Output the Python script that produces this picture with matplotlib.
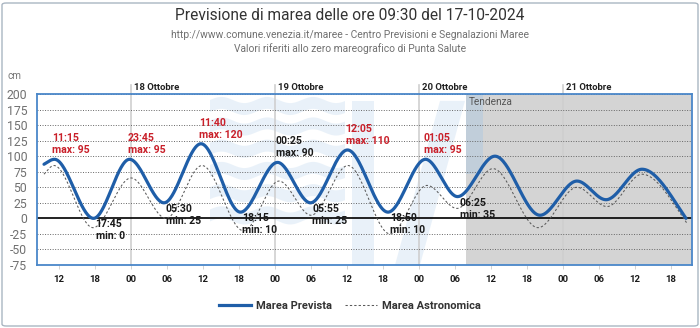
import numpy as np
import pandas as pd
import matplotlib
matplotlib.use("Agg")
import matplotlib.pyplot as plt
from matplotlib.patches import FancyBboxPatch, Polygon, Rectangle
from matplotlib.lines import Line2D
import matplotlib.transforms as mtransforms

plt.rcParams["font.family"] = ["Roboto", "DejaVu Sans"]

# ---- data -------------------------------------------------------------
ref_day = pd.Timestamp("2024-10-18 00:00")

# predicted tide: turning points (first/last are the ends of the series)
prevista_time = ["2024-10-17 09:30", "2024-10-17 11:15", "2024-10-17 17:45",
                 "2024-10-17 23:45", "2024-10-18 05:30", "2024-10-18 11:40",
                 "2024-10-18 18:15", "2024-10-19 00:25", "2024-10-19 05:55",
                 "2024-10-19 12:05", "2024-10-19 18:50", "2024-10-20 01:05",
                 "2024-10-20 06:25", "2024-10-20 12:40", "2024-10-20 20:10",
                 "2024-10-21 02:20", "2024-10-21 07:10", "2024-10-21 13:10",
                 "2024-10-21 20:30"]
prevista_cm = [87, 95, 0, 95, 25, 120, 10, 90, 25, 110, 10, 95, 35,
               100, 5, 60, 30, 79, 0]

# astronomical tide: turning points
astro_time = ["2024-10-17 09:30", "2024-10-17 11:10", "2024-10-17 17:40",
              "2024-10-18 00:00", "2024-10-18 05:50", "2024-10-18 11:50",
              "2024-10-18 18:45", "2024-10-19 00:40", "2024-10-19 06:00",
              "2024-10-19 12:10", "2024-10-19 19:10", "2024-10-20 01:20",
              "2024-10-20 06:20", "2024-10-20 12:20", "2024-10-20 19:50",
              "2024-10-21 02:20", "2024-10-21 07:20", "2024-10-21 13:10",
              "2024-10-21 20:40"]
astro_cm = [71, 85, -15, 65, 0, 85, -20, 60, 5, 85, -25, 53, 16,
            80, -15, 50, 19, 71, -8]

tendenza_start = "2024-10-20 07:50"
day_labels = ["18 Ottobre", "19 Ottobre", "20 Ottobre", "21 Ottobre"]
day_starts = ["2024-10-18 00:00", "2024-10-19 00:00", "2024-10-20 00:00", "2024-10-21 00:00"]
hour_ticks = ["2024-10-17 12:00", "2024-10-17 18:00",
              "2024-10-18 00:00", "2024-10-18 06:00", "2024-10-18 12:00", "2024-10-18 18:00",
              "2024-10-19 00:00", "2024-10-19 06:00", "2024-10-19 12:00", "2024-10-19 18:00",
              "2024-10-20 00:00", "2024-10-20 06:00", "2024-10-20 12:00", "2024-10-20 18:00",
              "2024-10-21 00:00", "2024-10-21 06:00", "2024-10-21 12:00", "2024-10-21 18:00"]
y_ticks = list(range(-75, 201, 25))


def to_stamps(ts):
    return pd.to_datetime(pd.Series(ts), format="%Y-%m-%d %H:%M")


def hours(ts):
    return (to_stamps(ts) - ref_day).dt.total_seconds().to_numpy() / 3600.0


def smooth_through(t, v, n=60, end_factor=1.3):
    """Cubic Hermite curve with flat tangents at the turning points."""
    t = np.asarray(t, float)
    v = np.asarray(v, float)
    m = np.zeros_like(v)
    m[0] = end_factor * (v[1] - v[0]) / (t[1] - t[0])
    m[-1] = end_factor * (v[-1] - v[-2]) / (t[-1] - t[-2])
    xs, ys = [], []
    for i in range(len(t) - 1):
        h = t[i + 1] - t[i]
        s = np.linspace(0, 1, n, endpoint=(i == len(t) - 2))
        h00 = 2 * s**3 - 3 * s**2 + 1
        h10 = s**3 - 2 * s**2 + s
        h01 = -2 * s**3 + 3 * s**2
        h11 = s**3 - s**2
        xs.append(t[i] + s * h)
        ys.append(h00 * v[i] + h10 * h * m[i] + h01 * v[i + 1] + h11 * h * m[i + 1])
    return np.concatenate(xs), np.concatenate(ys)


tp = hours(prevista_time)
ta = hours(astro_time)
t_tend = hours([tendenza_start])[0]

# ---- figure -----------------------------------------------------------
fig = plt.figure(figsize=(7.0, 3.28), dpi=100)
fig.patch.set_facecolor("white")
W, H = 700.0, 328.0
ax_l, ax_r, ax_t, ax_b = 37, 692, 94, 265
ax = fig.add_axes([ax_l / W, 1 - ax_b / H, (ax_r - ax_l) / W, (ax_b - ax_t) / H])

# frame around the whole chart
fig.patches.append(FancyBboxPatch((2 / W, 2 / H), 1 - 4 / W, 1 - 5 / H,
                                  boxstyle="round,pad=0,rounding_size=0.006",
                                  transform=fig.transFigure, fill=False,
                                  edgecolor="#aab6c2", linewidth=1.0))

x_min, x_max = (ax_l - 131) / 6.0, (ax_r - 131) / 6.0
ax.set_xlim(x_min, x_max)
ax.set_ylim(-75, 200)

# forecast horizon shading
ax.axvspan(t_tend, x_max, color="#d4d4d4", lw=0, zorder=0)
ax.text(t_tend + 0.5, 195, "Tendenza", fontsize=7.2, color="#555555",
        ha="left", va="top", zorder=3)

# faint logo watermark
wm = dict(facecolor="#9ec3e6", alpha=0.22, lw=0, zorder=1, transform=ax.transAxes)
wx = np.linspace((210 - ax_l) / 655, (345 - ax_l) / 655, 200)
for yc in [0.93, 0.81, 0.68, 0.55, 0.42, 0.29]:
    wave = 0.018 * np.sin((wx - wx[0]) * 2 * np.pi / 0.07)
    top = yc + wave + 0.035
    bot = yc + wave - 0.035
    ax.add_patch(Polygon(np.column_stack([np.r_[wx, wx[::-1]], np.r_[top, bot[::-1]]]), **wm))
ax.add_patch(Rectangle(((352 - ax_l) / 655, 0.0), 22 / 655, 0.96, **wm))
ax.add_patch(Polygon([((395 - ax_l) / 655, 0.0), ((420 - ax_l) / 655, 0.0),
                      ((465 - ax_l) / 655, 0.96), ((440 - ax_l) / 655, 0.96)], **wm))
ax.add_patch(Rectangle(((466 - ax_l) / 655, 0.53), 17 / 655, 0.47,
                       facecolor="#9ec3e6", alpha=0.35, lw=0, zorder=1,
                       transform=ax.transAxes))

# grid
for yv in y_ticks:
    if yv == 0:
        continue
    ax.axhline(yv, color="#666666", lw=0.7, ls=(0, (1, 1.6)), zorder=2)
ax.axhline(0, color="#111111", lw=1.3, zorder=3)

# day separators above the plot
trans = mtransforms.blended_transform_factory(ax.transData, ax.transAxes)
for lab, ds in zip(day_labels, day_starts):
    xd = hours([ds])[0]
    ax.plot([xd, xd], [0, 1 + 9 / 171], transform=trans, color="#cfcfcf",
            lw=1.2, clip_on=False, zorder=1.5)
    ax.text(xd + 0.5, 1 + 7 / 171, lab, transform=trans, fontsize=6.8,
            fontweight="bold", color="#222222", ha="left", va="center")

# curves
xa, ya = smooth_through(ta, astro_cm)
ax.plot(xa, ya, color="#5a5a5a", lw=0.75, ls=(0, (2.2, 2.0)), zorder=4)
xp, yp = smooth_through(tp, prevista_cm)
ax.plot(xp, yp, color="#1f5ea8", lw=2.3, zorder=5, solid_capstyle="round")

# turning-point labels (forecast part only)
stamps = to_stamps(prevista_time)
for k in range(1, len(tp) - 1):
    if tp[k] > t_tend:
        continue
    val = prevista_cm[k]
    is_max = val > prevista_cm[k - 1]
    hhmm = stamps[k].strftime("%H:%M")
    if is_max:
        col = "#c9202a" if val > 90 else "#1a1a1a"
        ax.annotate(f"{hhmm}\nmax: {val}", (tp[k], val), xytext=(-2, 4),
                    textcoords="offset pixels", ha="left", va="bottom",
                    fontsize=7.6, fontweight="bold", color=col,
                    linespacing=1.25, zorder=6)
    else:
        ax.annotate(f"{hhmm}\nmin: {val}", (tp[k], val), xytext=(2, -1),
                    textcoords="offset pixels", ha="left", va="top",
                    fontsize=7.6, fontweight="bold", color="#1a1a1a",
                    linespacing=1.25, zorder=6)

# axes styling
ax.set_yticks(y_ticks)
ax.set_yticklabels([str(v) for v in y_ticks])
ax.tick_params(axis="y", length=0, pad=7, labelsize=8.8, labelcolor="#707070")
xt = hours(hour_ticks)
ax.set_xticks(xt)
ax.set_xticklabels(to_stamps(hour_ticks).dt.strftime("%H").tolist())
ax.tick_params(axis="x", length=3, width=0.6, color="#cccccc", pad=4,
               labelsize=6.8, labelcolor="#1a1a1a")
for lab in ax.get_xticklabels():
    lab.set_fontweight("bold")
for sp in ax.spines.values():
    sp.set_color("#4a87c9")
    sp.set_linewidth(1.3)
    sp.set_zorder(7)
ax.set_facecolor("white")

fig.text(8 / W, 1 - 76 / H, "cm", fontsize=7.2, color="#777777", ha="left", va="center")

# titles
fig.text(0.5, 1 - 15 / H, "Previsione di marea delle ore 09:30 del 17-10-2024",
         fontsize=11.2, color="#333333", ha="center", va="center")
fig.text(0.5, 1 - 35 / H,
         "http://www.comune.venezia.it/maree - Centro Previsioni e Segnalazioni Maree",
         fontsize=7.4, color="#707070", ha="center", va="center")
fig.text(0.5, 1 - 49 / H, "Valori riferiti allo zero mareografico di Punta Salute",
         fontsize=7.4, color="#707070", ha="center", va="center")

# legend
handles = [Line2D([], [], color="#1f5ea8", lw=2.3),
           Line2D([], [], color="#5a5a5a", lw=0.75, ls=(0, (2.2, 2.0)))]
leg = fig.legend(handles, ["Marea Prevista", "Marea Astronomica"], loc="center",
                 bbox_to_anchor=(0.5, 1 - 306 / H), ncol=2, frameon=False,
                 fontsize=8, handlelength=2.9, handletextpad=0.4, columnspacing=1.2)
for txt in leg.get_texts():
    txt.set_fontweight("bold")
    txt.set_color("#333333")

fig.savefig("out.png", dpi=100, facecolor="white")
